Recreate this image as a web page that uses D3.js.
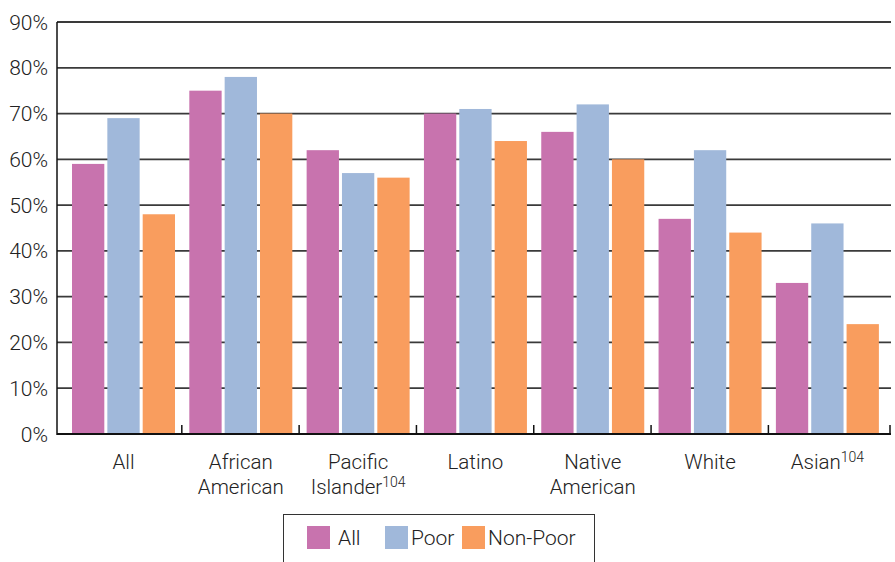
<!DOCTYPE html>
<html>
<head>
<meta charset="utf-8">
<script src="https://cdn.jsdelivr.net/npm/d3@7"></script>
<style>
  body { margin: 0; background: #fff; }
  text { font-family: Roboto, "Liberation Sans", Arial, sans-serif; font-weight: 300; fill: #222; }
</style>
</head>
<body>
<div id="chart"></div>
<script>
// categories (second line of label after |, superscript after ^)
var categories = ["All", "African|American", "Pacific|Islander^104", "Latino", "Native|American", "White", "Asian^104"];
var seriesNames = ["All", "Poor", "Non-Poor"];
var allValues = [59, 75, 62, 70, 66, 47, 33];
var poorValues = [69, 78, 57, 71, 72, 62, 46];
var nonPoorValues = [48, 70, 56, 64, 60, 44, 24];
var yTicks = [0, 10, 20, 30, 40, 50, 60, 70, 80, 90];
var colors = ["#c873ae", "#a0b8da", "#f99d5e"];

var series = [allValues, poorValues, nonPoorValues];

var width = 895, height = 562;
var svg = d3.select("#chart").append("svg").attr("width", width).attr("height", height);

var axisLeftX = 57, axisRightX = 891;
var x = d3.scaleBand().domain(categories).range([64.5, 885.7]).padding(0);
var x1 = d3.scaleBand().domain(seriesNames).range([7.5, 110.5]).paddingInner(0.0857).paddingOuter(0);
var y = d3.scaleLinear().domain([0, 90]).range([434, 22]);

// gridlines
svg.append("g").selectAll("line")
    .data(yTicks.filter(function(d) { return d > 0; }))
    .enter().append("line")
    .attr("x1", axisLeftX).attr("x2", axisRightX)
    .attr("y1", function(d) { return y(d); })
    .attr("y2", function(d) { return y(d); })
    .attr("stroke", "#3a3a3a").attr("stroke-width", 1.8);

// y tick labels
svg.append("g").selectAll("text")
    .data(yTicks)
    .enter().append("text")
    .attr("x", 48)
    .attr("y", function(d) { return y(d); })
    .attr("dy", "0.36em")
    .attr("text-anchor", "end")
    .style("font-size", "21px")
    .text(function(d) { return d + "%"; });

// bars
var groups = svg.append("g").selectAll("g")
    .data(categories)
    .enter().append("g")
    .attr("transform", function(d) { return "translate(" + x(d) + ",0)"; });

groups.selectAll("rect")
    .data(function(d, i) { return seriesNames.map(function(s, j) { return {s: s, v: series[j][i], j: j}; }); })
    .enter().append("rect")
    .attr("x", function(d) { return x1(d.s); })
    .attr("y", function(d) { return y(d.v); })
    .attr("width", x1.bandwidth())
    .attr("height", function(d) { return y(0) - y(d.v); })
    .attr("fill", function(d) { return colors[d.j]; });

// axes lines
svg.append("line")
    .attr("x1", axisLeftX).attr("x2", axisLeftX)
    .attr("y1", y(90)).attr("y2", y(0) + 1)
    .attr("stroke", "#111").attr("stroke-width", 1.5);
svg.append("line")
    .attr("x1", axisLeftX).attr("x2", axisRightX)
    .attr("y1", y(0)).attr("y2", y(0))
    .attr("stroke", "#111").attr("stroke-width", 2);

// category tick marks (last one sits at the axis end)
svg.append("g").selectAll("line")
    .data(categories)
    .enter().append("line")
    .attr("x1", function(d, i) { return i == categories.length - 1 ? axisRightX - 1 : x(d) + x.bandwidth(); })
    .attr("x2", function(d, i) { return i == categories.length - 1 ? axisRightX - 1 : x(d) + x.bandwidth(); })
    .attr("y1", y(0)).attr("y2", y(0) - 9)
    .attr("stroke", "#111").attr("stroke-width", 1.5);

// category labels
groups.each(function(d) {
    var lines = d.split("|");
    var t = d3.select(this).append("text")
        .attr("text-anchor", "middle")
        .style("font-size", "20.5px");
    lines.forEach(function(line, i) {
        var parts = line.split("^");
        t.append("tspan")
            .attr("x", x1.range()[0] + (x1.range()[1] - x1.range()[0]) / 2)
            .attr("y", 469 + i * 25)
            .text(parts[0]);
        if (parts[1]) {
            t.append("tspan")
                .attr("dy", -7)
                .style("font-size", "14px")
                .text(parts[1]);
        }
    });
});

// legend
var legend = svg.append("g");
legend.append("rect")
    .attr("x", 283.5).attr("y", 514.5)
    .attr("width", 311).attr("height", 60)
    .attr("fill", "none").attr("stroke", "#333").attr("stroke-width", 1);

var legendX = [307, 385, 462];
seriesNames.forEach(function(s, i) {
    legend.append("rect")
        .attr("x", legendX[i]).attr("y", 526)
        .attr("width", 23).attr("height", 23)
        .attr("fill", colors[i]);
    legend.append("text")
        .attr("x", legendX[i] + (i == 0 ? 31 : 26))
        .attr("y", 537.5)
        .attr("dy", "0.36em")
        .style("font-size", "21px")
        .text(s);
});
</script>
</body>
</html>
